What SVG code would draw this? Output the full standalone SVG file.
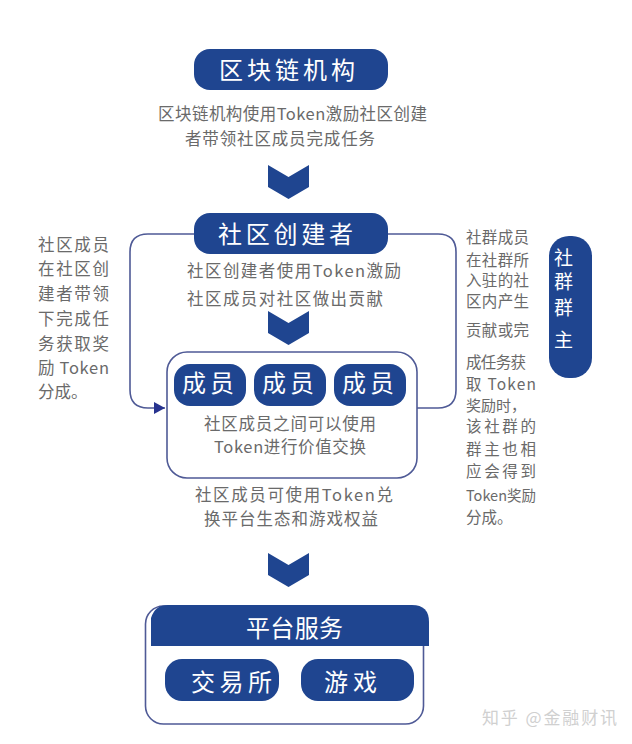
<svg xmlns="http://www.w3.org/2000/svg" width="632" height="744" viewBox="0 0 632 744">
<style>
text{font-family:"Noto Sans CJK SC","Noto Sans",sans-serif}
.b{fill:#1f4590}
.o{fill:none;stroke:#4f5a96;stroke-width:1.6}
.t{fill:#6a6a6a;font-size:16.5px}
.s{fill:#6a6a6a;font-size:15.5px}
.w{fill:#fff;font-size:24px}
.c{fill:#fff;font-size:19px;text-anchor:middle}
</style>
<defs>
<path id="chev" d="M268 0L288.500 12L309 0V22L288.500 34L268 22Z" class="b"/>
<marker id="ah" markerUnits="userSpaceOnUse" markerWidth="12" markerHeight="14" refX="11" refY="6" orient="auto"><path d="M0 0L11 6L0 12Z" fill="#27338f"/></marker>
</defs>
<rect width="632" height="744" fill="#fff"/>
<g id="connectors">
<path class="o" d="M195 234H148Q130 234 130 252V390Q130 408 148 408H165" marker-end="url(#ah)"/>
<path class="o" d="M387 234H438Q456 234 456 252V390Q456 408 438 408H417"/>
<use href="#chev" y="165"/>
<use href="#chev" y="311"/>
<use href="#chev" y="553"/>
</g>
<g id="node-chain">
<rect class="b" x="194" y="49" width="194" height="41" rx="16"/>
<text class="w" x="219" y="79" textLength="136">区块链机构</text>
<text class="t" x="158" y="120" textLength="269">区块链机构使用Token激励社区创建</text>
<text class="t" x="185" y="145" textLength="190">者带领社区成员完成任务</text>
</g>
<g id="node-creator">
<rect class="b" x="194" y="213" width="194" height="41" rx="16"/>
<text class="w" x="218" y="243" textLength="135">社区创建者</text>
<text class="t" x="187" y="277" textLength="214">社区创建者使用Token激励</text>
<text class="t" x="187" y="305" textLength="196">社区成员对社区做出贡献</text>
</g>
<g id="node-members">
<rect x="167" y="352" width="250" height="126" rx="20" fill="#fff" stroke="#4f5a96" stroke-width="1.6"/>
<rect class="b" x="174" y="364" width="72" height="42" rx="16"/>
<rect class="b" x="254" y="364" width="72" height="42" rx="16"/>
<rect class="b" x="334" y="364" width="72" height="42" rx="16"/>
<text class="w" x="182" y="392" textLength="52">成员</text>
<text class="w" x="262" y="392" textLength="52">成员</text>
<text class="w" x="342" y="392" textLength="52">成员</text>
<text class="t" x="204" y="430" textLength="172">社区成员之间可以使用</text>
<text class="t" x="214" y="453" textLength="152">Token进行价值交换</text>
</g>
<g id="note-exchange">
<text class="t" x="195" y="501" textLength="198">社区成员可使用Token兑</text>
<text class="t" x="204" y="525" textLength="174">换平台生态和游戏权益</text>
</g>
<g id="node-platform">
<rect x="145.500" y="606" width="278" height="118" rx="18" fill="#fff" stroke="#4f5a96" stroke-width="1.6"/>
<path class="b" d="M151 646V618Q155 605 168 605H412Q429 605 429 622V646Z"/>
<text class="w" x="246" y="637" textLength="97">平台服务</text>
<rect class="b" x="165" y="659" width="114" height="42" rx="17"/>
<rect class="b" x="301" y="659" width="113" height="42" rx="17"/>
<text class="w" x="191" y="691" textLength="81">交易所</text>
<text class="w" x="324" y="691" textLength="53">游戏</text>
</g>
<g id="node-owner">
<rect class="b" x="549" y="236" width="43" height="142" rx="20"/>
<text class="c" x="563.500" y="265">社<tspan x="563.500" y="289">群</tspan><tspan x="563.500" y="315">群</tspan><tspan x="563.500" y="347">主</tspan></text>
</g>
<g id="note-left">
<text class="t" x="38" y="251" textLength="71">社区成员</text>
<text class="t" x="38" y="275" textLength="71">在社区创</text>
<text class="t" x="38" y="300" textLength="71">建者带领</text>
<text class="t" x="38" y="325" textLength="71">下完成任</text>
<text class="t" x="38" y="350" textLength="71">务获取奖</text>
<text class="t" x="38" y="374" textLength="71" xml:space="preserve">励 Token</text>
<text class="t" x="38" y="398">分成。</text>
</g>
<g id="note-right">
<text class="s" x="466" y="243" textLength="63">社群成员</text>
<text class="s" x="466" y="266" textLength="63">在社群所</text>
<text class="s" x="466" y="286" textLength="63">入驻的社</text>
<text class="s" x="466" y="307" textLength="63">区内产生</text>
<text class="s" x="466" y="336" textLength="63">贡献或完</text>
<text class="s" x="466" y="368" textLength="60">成任务获</text>
<text class="s" x="466" y="390" textLength="70" xml:space="preserve">取 Token</text>
<text class="s" x="466" y="411" style="font-size:15px">奖励时，</text>
<text class="s" x="466" y="432" textLength="70">该社群的</text>
<text class="s" x="466" y="455" textLength="70">群主也相</text>
<text class="s" x="466" y="477" textLength="70">应会得到</text>
<text class="s" x="466" y="501" style="font-size:14.5px">Token奖励</text>
<text class="s" x="466" y="523">分成。</text>
</g>
<g id="watermark">
<text x="482" y="724" font-size="17" fill="#d0d0d0" textLength="135">知乎 @金融财讯</text>
</g>
</svg>
